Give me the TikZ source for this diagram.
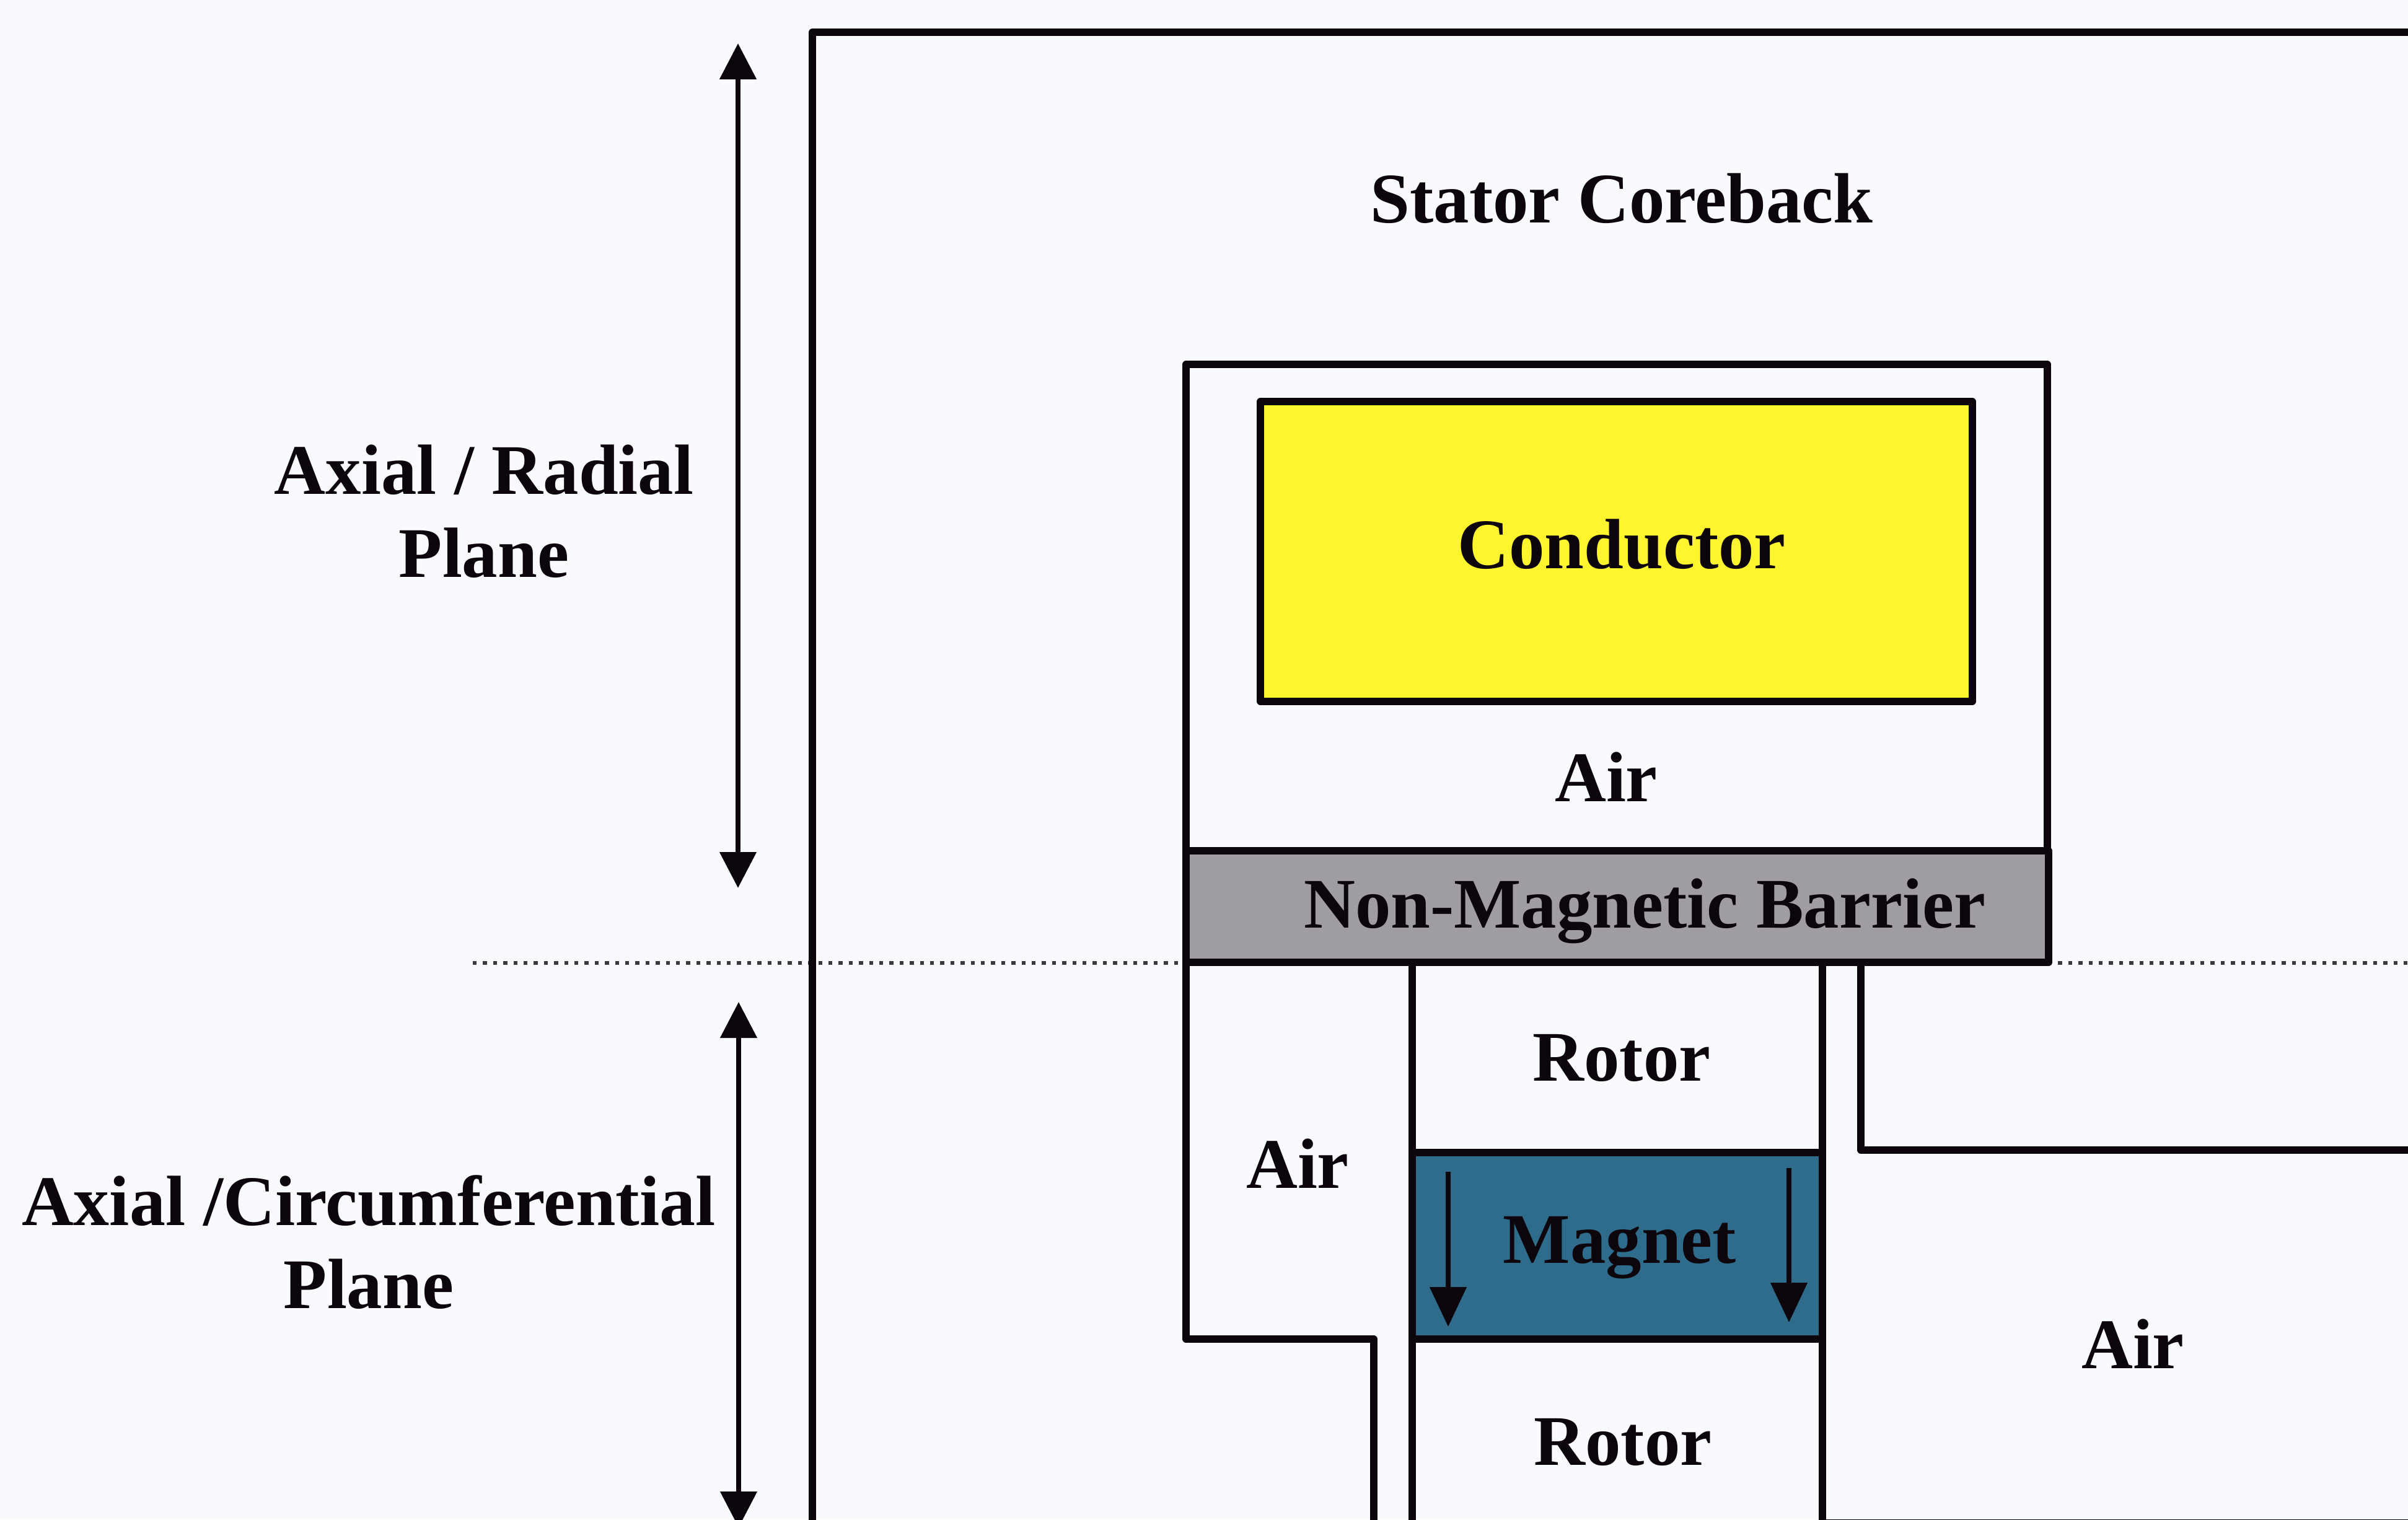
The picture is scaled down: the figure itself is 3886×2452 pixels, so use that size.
\documentclass[tikz,border=0pt]{standalone}
\usepackage{fontspec}
\setmainfont{Liberation Serif}
\usetikzlibrary{arrows.meta}
\definecolor{pagebg}{HTML}{F8FAFE}
\definecolor{ink}{HTML}{0C060C}
\definecolor{conductorfill}{HTML}{FFF52E}
\definecolor{barrierfill}{HTML}{A09CA4}
\definecolor{magnetfill}{HTML}{2F6C8C}
\tikzset{
  wall/.style={draw=ink,line width=2.8pt,line cap=round,line join=round},
  region/.style={wall,outer sep=0pt,inner sep=0pt,anchor=north west},
  thinarrow/.style={draw=ink,line width=2pt,{Triangle[length=14.5pt,width=14.5pt]}-{Triangle[length=14.5pt,width=14.5pt]}},
  downarrow/.style={draw=ink,line width=2pt,-{Triangle[length=16pt,width=14.5pt]}},
  planeline/.style={draw=ink!80,line width=1.6pt,dash pattern=on 1.6pt off 2.5pt},
  lbl/.style={text=ink,font=\fontsize{28.7}{34}\selectfont\bfseries,inner sep=0pt,align=center}
}
\begin{document}
\begin{tikzpicture}[x=0.25pt,y=-0.25pt]
\fill[pagebg] (0,0) rectangle (3886,2452);
\useasboundingbox (0,0) rectangle (3886,2452);
% plane line
\coordinate (dl) at (763,1554);
\coordinate (dr) at (3886,1554);
\draw[planeline] (dl) -- (dr);
% frame
\coordinate (f1) at (1311,2470);
\coordinate (f2) at (1311,52);
\coordinate (f3) at (3900,52);
\draw[wall] (f1) -- (f2) -- (f3);
% stator slot
\draw[wall] (1914,1553) -- (1914,588) -- (3304,588) -- (3304,1553);
\node[region,fill=conductorfill,minimum width=1149*0.25pt,minimum height=484*0.25pt] (conductor) at (2034,648) {};
% rotor
\draw[wall] (1914,1553) -- (1914,2161) -- (2217,2161) -- (2217,2470);
\draw[wall] (2279,1553) -- (2279,2470);
\draw[wall] (2941,1553) -- (2941,2470);
\draw[wall] (3003,1553) -- (3003,1856) -- (3900,1856);
\draw[wall] (2941,2458) -- (3900,2458);
\node[region,fill=barrierfill,minimum width=1392*0.25pt,minimum height=180*0.25pt] (barrier) at (1914,1373) {};
\node[region,fill=magnetfill,minimum width=662*0.25pt,minimum height=301*0.25pt] (magnet) at (2279,1860) {};
% arrows
\coordinate (a1) at (1191,70);
\coordinate (a2) at (1191,1433);
\coordinate (b1) at (1192,1617);
\coordinate (b2) at (1192,2465);
\draw[thinarrow] (a1) -- (a2);
\draw[thinarrow] (b1) -- (b2);
\coordinate (m1) at (2337,1891);
\coordinate (m2) at (2337,2141);
\coordinate (m3) at (2887,1885);
\coordinate (m4) at (2887,2134);
\draw[downarrow] (m1) -- (m2);
\draw[downarrow] (m3) -- (m4);
% labels
\node[lbl] (t1) at (2617,320) {Stator Coreback};
\node[lbl] (t2) at (2617,878) {Conductor};
\node[lbl] (t3) at (2592,1254) {Air};
\node[lbl] (t4) at (2654,1470) {Non-Magnetic Barrier};
\node[lbl] (t5) at (2617,1707) {Rotor};
\node[lbl] (t6) at (2094,1878) {Air};
\node[lbl] (t7) at (2614,2014) {Magnet};
\node[lbl] (t8) at (2619,2327) {Rotor};
\node[lbl] (t9) at (3442,2169) {Air};
\node[lbl] (t10) at (781,758) {Axial / Radial};
\node[lbl] (t11) at (781,892) {Plane};
\node[lbl,xscale=1.01] (t12) at (595,1938) {Axial /Circumferential};
\node[lbl] (t13) at (595,2072) {Plane};
\end{tikzpicture}
\end{document}
